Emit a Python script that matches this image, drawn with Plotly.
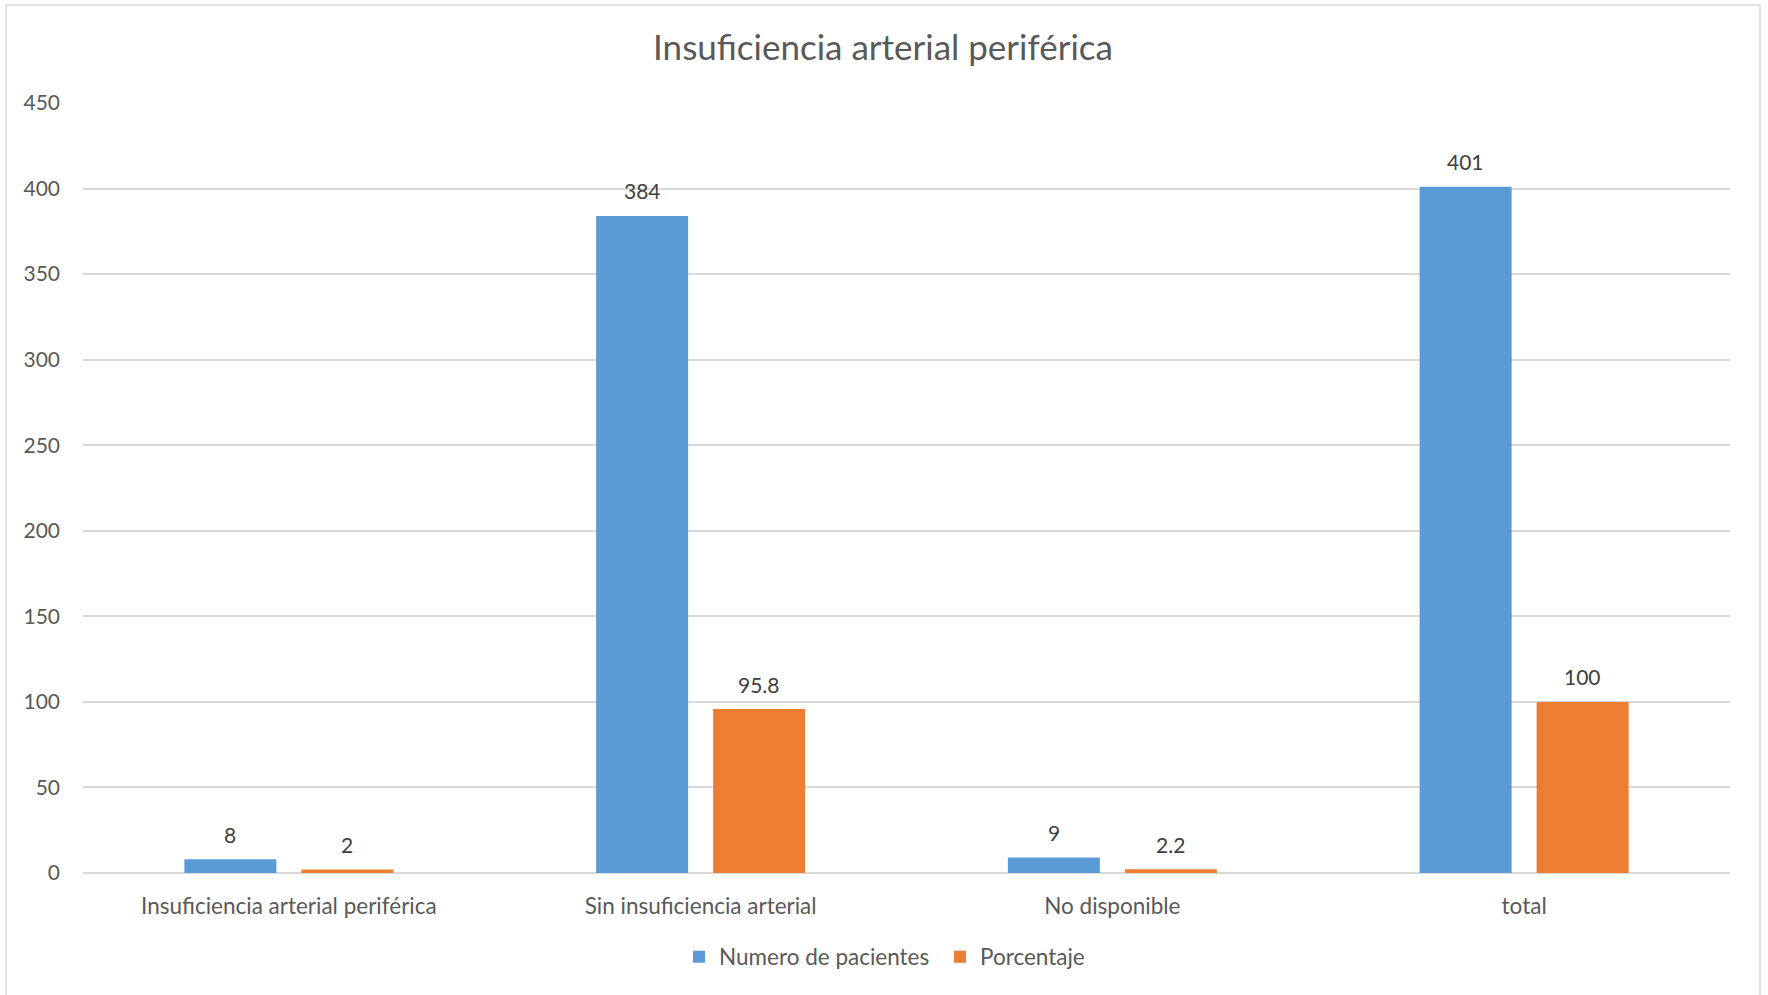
import plotly.graph_objects as go

# Data
categories = ["Insuficiencia arterial periférica", "Sin insuficiencia arterial", "No disponible", "total"]
pacientes = [8, 384, 9, 401]
porcentaje = [2, 95.8, 2.2, 100]
porcentaje_labels = ["2", "95.8", "2.2", "100"]
y_ticks = [0, 50, 100, 150, 200, 250, 300, 350, 400, 450]

W, H = 1768, 995
PL, PR, PT, PB = 83, 1730, 103, 873  # plot area in pixels

BLUE = "#5B9BD5"
ORANGE = "#ED7D31"
GRID = "#D9D9D9"
TXT = "#595959"
FONT = "Lato, 'Open Sans', sans-serif"

fig = go.Figure()
fig.add_trace(go.Bar(name="Numero de pacientes", x=categories, y=pacientes,
                     marker=dict(color=BLUE, line=dict(width=0))))
fig.add_trace(go.Bar(name="Porcentaje", x=categories, y=porcentaje,
                     marker=dict(color=ORANGE, line=dict(width=0))))

# value labels above each bar
slot = 117
for cat, v in zip(categories, pacientes):
    fig.add_annotation(x=cat, y=v, xref="x", yref="y", text=str(v), showarrow=False,
                       xshift=-slot / 2, yshift=25, yanchor="middle",
                       font=dict(size=21, color="#404040", family=FONT))
for cat, v, t in zip(categories, porcentaje, porcentaje_labels):
    fig.add_annotation(x=cat, y=v, xref="x", yref="y", text=t, showarrow=False,
                       xshift=slot / 2, yshift=25, yanchor="middle",
                       font=dict(size=21, color="#404040", family=FONT))

# outer chart border
pw, ph = PR - PL, PB - PT
fig.add_shape(type="rect", xref="paper", yref="paper",
              x0=(6 - PL) / pw, x1=(1760 - PL) / pw,
              y0=(PB - 1010) / ph, y1=(PB - 5) / ph,
              line=dict(color=GRID, width=1.5), fillcolor="rgba(0,0,0,0)", layer="below")

fig.update_layout(
    width=W, height=H,
    margin=dict(l=PL, r=W - PR, t=PT, b=H - PB, pad=0),
    paper_bgcolor="white", plot_bgcolor="white",
    barmode="group", bargap=0.4317, bargroupgap=0.2137,
    title=dict(text="Insuficiencia arterial periférica", x=883 / W, xref="container",
               xanchor="center", y=1 - 48 / H, yanchor="middle",
               font=dict(size=35, color=TXT, family=FONT)),
    font=dict(family=FONT, color=TXT, size=22),
    legend=dict(orientation="h", x=(679 - PL) / pw, xanchor="left", xref="paper",
                y=(PB - 957) / ph, yanchor="middle",
                font=dict(size=22.5, color=TXT), itemwidth=30,
                entrywidth=216, entrywidthmode="pixels",
                traceorder="normal"),
    showlegend=True,
)
fig.update_xaxes(showgrid=False, showline=False, ticks="", zeroline=False,
                 tickfont=dict(size=22.5, color=TXT), ticklabelstandoff=17)
fig.update_yaxes(range=[0, 450], tickvals=y_ticks, showgrid=True, gridcolor=GRID,
                 gridwidth=1.5, zeroline=True, zerolinecolor=GRID, zerolinewidth=2,
                 showline=False, ticks="", tickfont=dict(size=21, color=TXT),
                 ticklabelstandoff=22)

fig.write_html("out.html")
